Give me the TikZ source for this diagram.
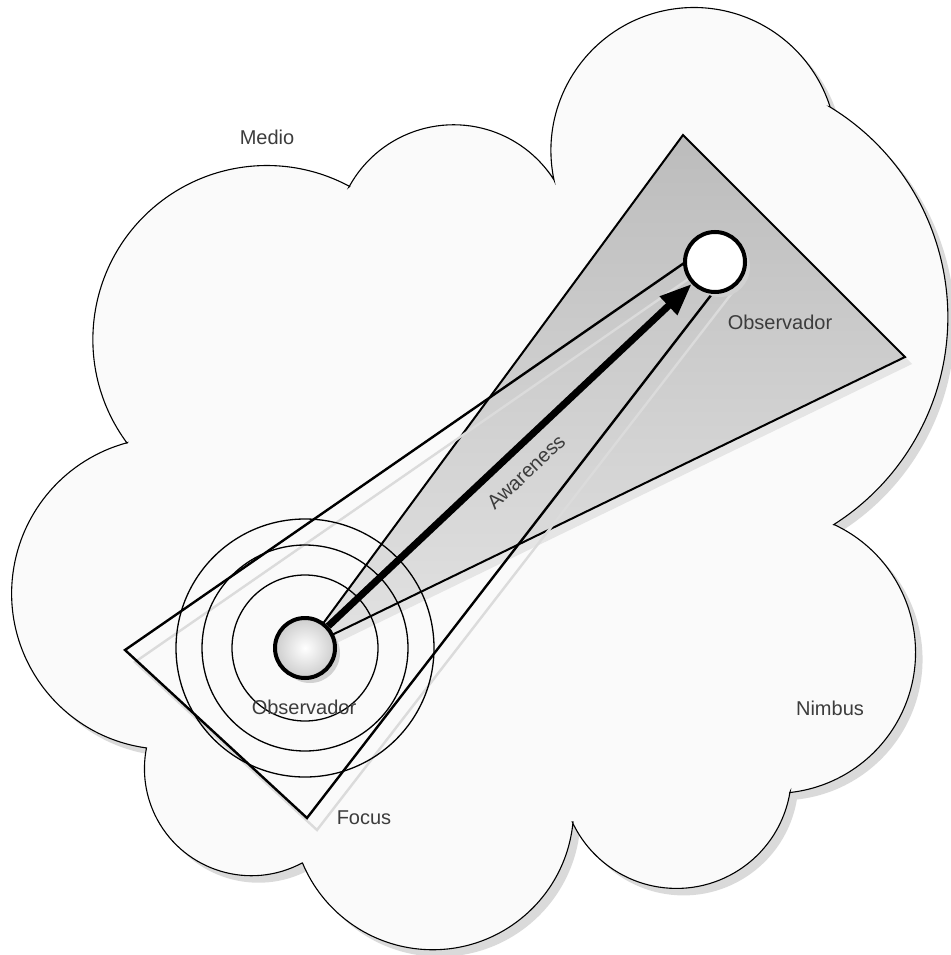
\documentclass[tikz,border=0pt]{standalone}
\usepackage{fontspec}
\setmainfont{Liberation Sans}
\usetikzlibrary{arrows.meta, shadows}
\definecolor{CloudFill}{RGB}{250,250,250}
\definecolor{ShadowGray}{RGB}{218,218,218}
\definecolor{NimbusDark}{RGB}{188,188,188}
\definecolor{NimbusLight}{RGB}{226,226,226}
\definecolor{ObsFill}{RGB}{205,205,205}
\definecolor{LabelText}{RGB}{60,60,60}
\tikzset{
  every node/.style={font=\fontsize{20}{24}\selectfont},
  lbl/.style={text=LabelText, inner sep=0pt},
  mediumarea/.style={draw=black, line width=1.1pt, fill=CloudFill,
                     drop shadow={shadow xshift=7pt, shadow yshift=-7pt,
                                  fill=ShadowGray, opacity=1}},
  nimbusarea/.style={draw=black, line width=2pt, shading angle=20,
                     top color=NimbusDark, bottom color=NimbusLight,
                     drop shadow={shadow xshift=7pt, shadow yshift=-7pt,
                                  fill=black!10, opacity=1}},
  focusarea/.style={draw=black, line width=2.4pt, line join=miter},
  focusshadow/.style={draw=black!14, line width=2.4pt},
  ring/.style={draw=black, line width=1.3pt},
  observer/.style={circle, draw=black, line width=4pt, minimum size=60pt,
                   inner sep=0pt,
                   drop shadow={shadow xshift=5pt, shadow yshift=-5pt,
                                fill=black!18, opacity=1}},
  aware/.style={-{Triangle[length=32pt, width=24pt]}, line width=7pt, black}
}

\begin{document}
\begin{tikzpicture}[x=1pt,y=-1pt]
\useasboundingbox (0,0) rectangle (950,955);

% Medio (cloud)
\draw[mediumarea]
  (127,443) arc[start angle=143.5, end angle=298.4, radius=174]
  -- (349,187) arc[start angle=208.5, end angle=327.5, radius=119]
  -- (554,180) arc[start angle=168.1, end angle=342.3, radius=143]
  -- (830,107) arc[start angle=301.4, end angle=417.6, radius=246]
  -- (835,525) arc[start angle=-64.6, end angle=83.8, radius=141]
  -- (790,792) arc[start angle=9.3, end angle=155, radius=115]
  -- (573,822) arc[start angle=5.4, end angle=157.4, radius=141]
  -- (302,863) arc[start angle=61.8, end angle=191.2, radius=107]
  -- (147,748) arc[start angle=97.6, end angle=255, radius=156]
  -- cycle;

% Nimbus of the far observer
\draw[nimbusarea] (305,648) -- (683,135) -- (905,357) -- cycle;

% Focus of the near observer
\draw[focusshadow] (135,662) -- (317,830) -- (732,293) -- (710,264) -- cycle;
\foreach \r in {73,103,129}
  \draw[ring] (305,648) circle[radius=\r];
\draw[focusarea] (125,650) -- (307,818) -- (722,281) -- (700,252) -- cycle;

% Observers
\node[observer, inner color=white, outer color=ObsFill] (obsA) at (305,648) {};
\node[observer, fill=white] (obsB) at (715,262) {};

\draw[aware] (obsA) -- node[lbl, sloped, below=13pt] {Awareness} (obsB);

% Labels
\node[lbl] (medio) at (267,137) {Medio};
\node[lbl] (obsBtxt) at (780,322) {Observador};
\node[lbl] (obsAtxt) at (304,707) {Observador};
\node[lbl] (nimbus) at (830,708) {Nimbus};
\node[lbl] (focus) at (364,818) {Focus};

\end{tikzpicture}
\end{document}
